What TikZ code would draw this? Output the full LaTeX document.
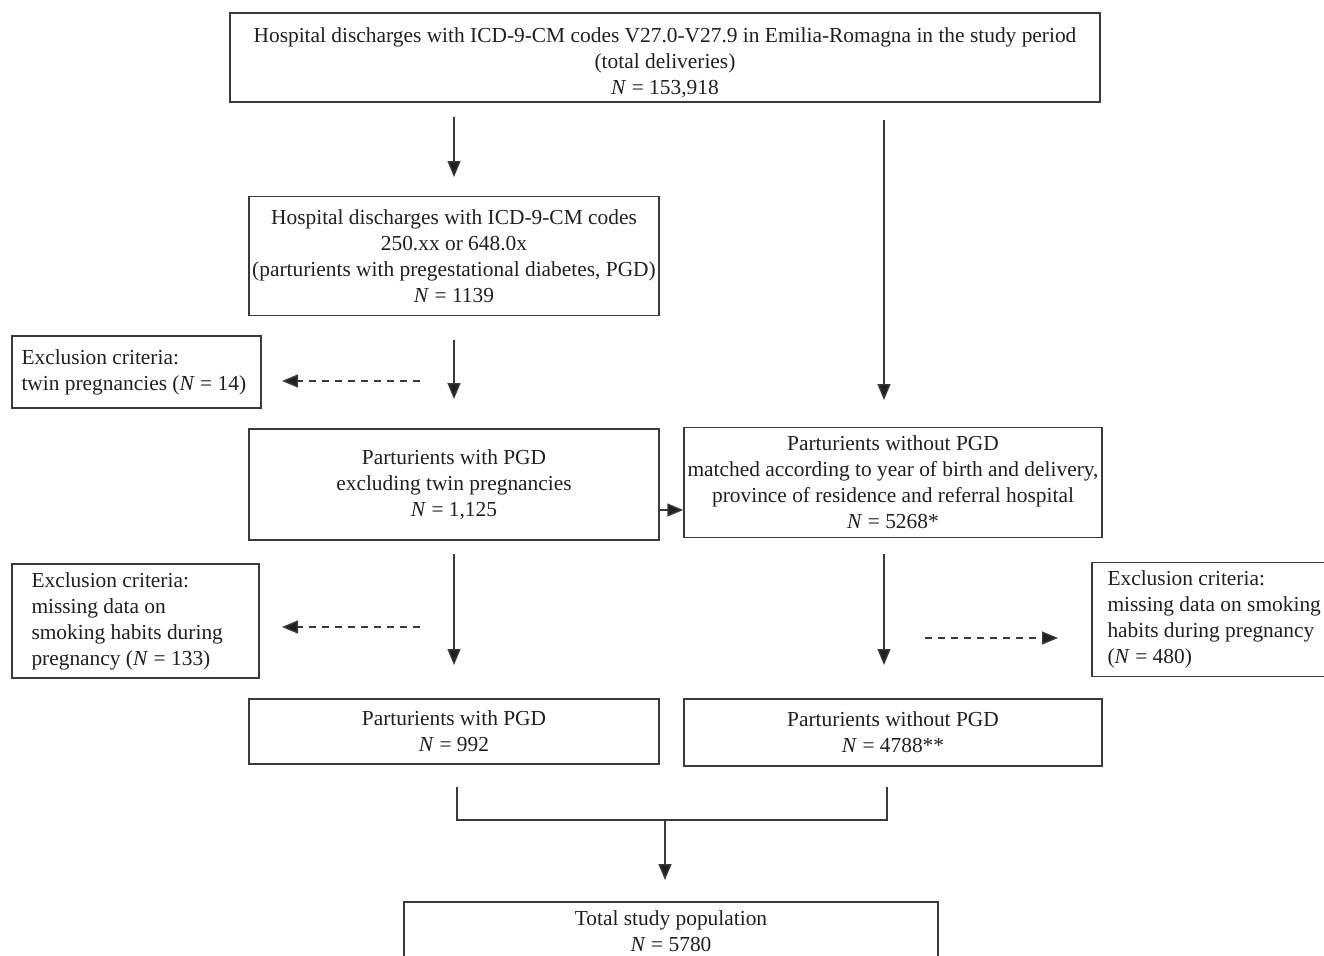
\documentclass[tikz,border=0pt]{standalone}
\usepackage{fontspec}
\setmainfont{Liberation Serif}
\usetikzlibrary{arrows.meta}
\definecolor{linec}{HTML}{3A3A3A}
\definecolor{txtc}{HTML}{231F20}
\begin{document}
\begin{tikzpicture}[x=1pt,y=-1pt,
  box/.style={draw=linec, line width=1.4pt, rectangle, inner sep=0pt, align=center, text=txtc, font=\fontsize{21.4}{26}\selectfont},
  ebox/.style={draw=linec, line width=1.4pt, rectangle, inner sep=0pt},
  etext/.style={inner sep=0pt, align=left, anchor=west, text=txtc, font=\fontsize{21.4}{26}\selectfont},
  arr/.style={draw=linec, line width=1.4pt, -{Triangle[length=16pt,width=13pt,fill=txtc]}},
  darr/.style={arr, dash pattern=on 7pt off 6pt},
  link/.style={draw=linec, line width=1.4pt}
]
\useasboundingbox (0,0) rectangle (1324,955);
\clip (0,0) rectangle (1324,955);
\fill[white] (0,0) rectangle (1324,955);

\node[box, minimum width=870pt, minimum height=89pt] (top) at (665,57.5)
  {\rule{0pt}{26pt}Hospital discharges with ICD-9-CM codes V27.0-V27.9 in Emilia-Romagna in the study period\\(total deliveries)\\\textit{N} = 153,918};
\node[box, minimum width=410pt, minimum height=119pt] (pgd) at (454,256)
  {Hospital discharges with ICD-9-CM codes\\250.xx or 648.0x\\(parturients with pregestational diabetes, PGD)\\\textit{N} = 1139};
\node[ebox, minimum width=249pt, minimum height=72pt] (ex1) at (136.5,372) {};
\node[etext] (ex1t) at ([xshift=10pt]ex1.west)
  {Exclusion criteria:\\twin pregnancies (\textit{N} = 14)};
\node[box, minimum width=410pt, minimum height=111pt] (wpgd) at (454,484.5)
  {Parturients with PGD\\excluding twin pregnancies\\\textit{N} = 1,125};
\node[box, minimum width=418pt, minimum height=110pt] (npgd) at (893,482.5)
  {Parturients without PGD\\matched according to year of birth and delivery,\\province of residence and referral hospital\\\textit{N} = 5268*};
\node[ebox, minimum width=247pt, minimum height=114pt] (ex2) at (135.5,621) {};
\node[etext] (ex2t) at ([xshift=20pt]ex2.west)
  {Exclusion criteria:\\missing data on\\smoking habits during\\pregnancy (\textit{N} = 133)};
\node[ebox, minimum width=250pt, minimum height=114pt] (ex3) at (1217,619.5) {};
\node[etext] (ex3t) at ([xshift=16pt]ex3.west)
  {Exclusion criteria:\\missing data on smoking\\habits during pregnancy\\(\textit{N} = 480)};
\node[box, minimum width=410pt, minimum height=65pt] (w992) at (454,731.5)
  {Parturients with PGD\\\textit{N} = 992};
\node[box, minimum width=418pt, minimum height=67pt] (n4788) at (893,732.5)
  {Parturients without PGD\\\textit{N} = 4788**};
\node[box, minimum width=534pt, minimum height=58pt] (total) at (671,931)
  {Total study population\\\textit{N} = 5780};

% free ends
\coordinate (a1s) at (454,117);  \coordinate (a1e) at (454,177);
\coordinate (a2s) at (884,120);  \coordinate (a2e) at (884,400);
\coordinate (a3s) at (454,340);  \coordinate (a3e) at (454,399);
\coordinate (d1s) at (420,381);  \coordinate (d1e) at (282,381);
\coordinate (a5s) at (454,554);  \coordinate (a5e) at (454,665);
\coordinate (d2s) at (420,627);  \coordinate (d2e) at (282,627);
\coordinate (a6s) at (884,554);  \coordinate (a6e) at (884,665);
\coordinate (d3s) at (925,638);  \coordinate (d3e) at (1058,638);
\coordinate (bl) at (457,787);   \coordinate (br) at (887,787);
\coordinate (bm) at (665,820);   \coordinate (be) at (665,880);

\draw[arr] (a1s) -- (a1e);
\draw[arr] (a2s) -- (a2e);
\draw[arr] (a3s) -- (a3e);
\draw[darr] (d1s) -- (d1e);
\draw[arr] (wpgd.east |- 0,510) -- (npgd.west |- 0,510);
\draw[arr] (a5s) -- (a5e);
\draw[darr] (d2s) -- (d2e);
\draw[arr] (a6s) -- (a6e);
\draw[darr] (d3s) -- (d3e);
\draw[link] (bl) |- (bm) -| (br);
\draw[arr] (bm) -- (be);
\end{tikzpicture}
\end{document}
